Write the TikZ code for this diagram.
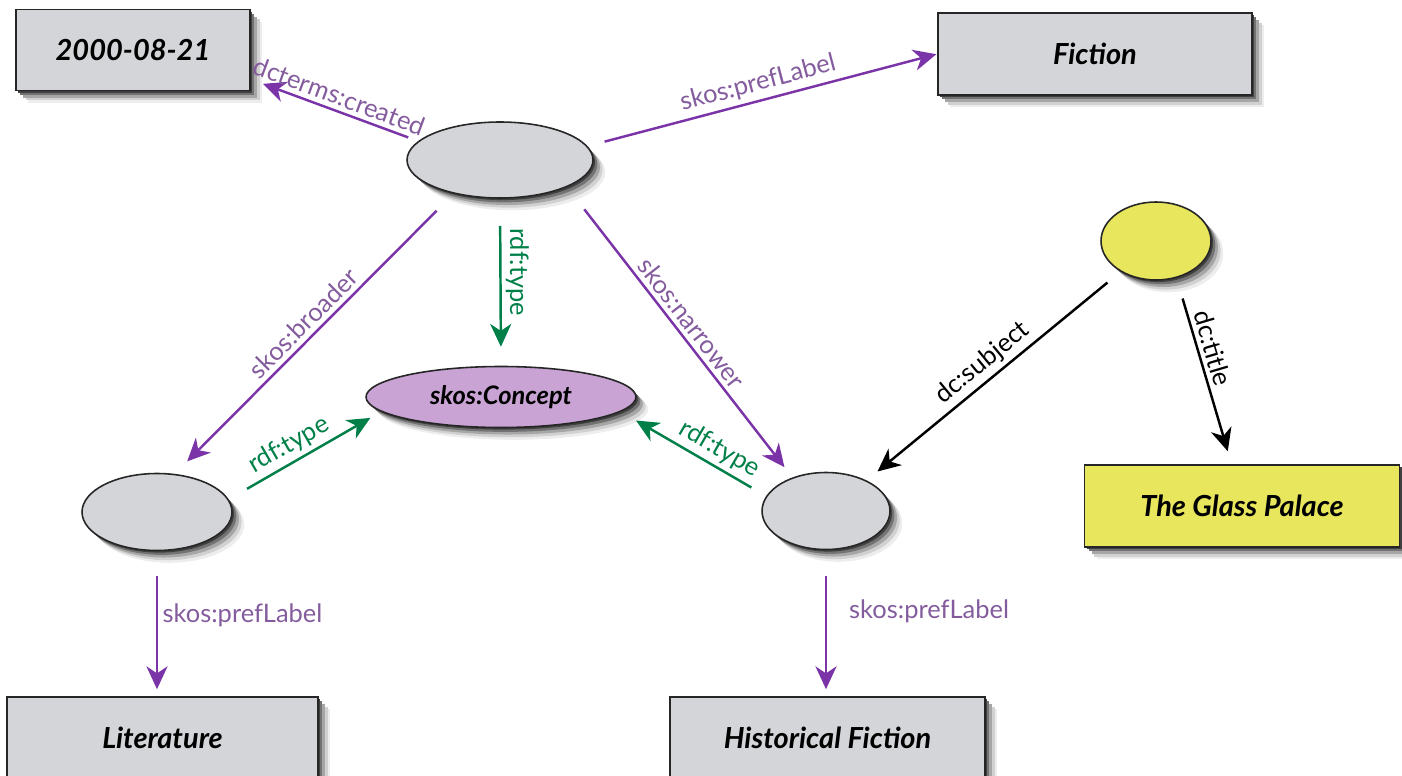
\documentclass[tikz,border=0pt]{standalone}
\usepackage{fontspec}
\setmainfont{Lato}
\usetikzlibrary{arrows.meta,shapes.geometric,shadows,positioning}
\definecolor{skospurple}{RGB}{122,52,168}
\definecolor{labelpurple}{RGB}{132,92,158}
\definecolor{typegreen}{RGB}{0,128,72}
\definecolor{nodegray}{RGB}{211,213,217}
\definecolor{nodeyellow}{RGB}{231,230,92}
\definecolor{conceptlilac}{RGB}{200,163,212}

\tikzset{
  shade drop/.style={
    general shadow={shadow xshift=7pt,shadow yshift=-7pt,fill=black!7,draw=none},
    general shadow={shadow xshift=5.5pt,shadow yshift=-5.5pt,fill=black!18,draw=none},
    general shadow={shadow xshift=4pt,shadow yshift=-4pt,fill=black!35,draw=none},
    general shadow={shadow xshift=2.5pt,shadow yshift=-2.5pt,fill=black!55,draw=none},
    general shadow={shadow xshift=1.2pt,shadow yshift=-1.2pt,fill=black!75,draw=none}},
  literal/.style={rectangle,draw=black!85,line width=0.9pt,fill=nodegray,inner sep=0pt,
    font=\bfseries\itshape\fontsize{16.5}{19}\selectfont,shade drop},
  resource/.style={ellipse,draw=black!85,line width=0.9pt,fill=nodegray,inner sep=0pt,shade drop},
  prop/.style={line width=1.4pt,color=skospurple,-{Stealth[length=13pt,width=12pt,inset=4pt]}},
  rdftype/.style={prop,color=typegreen},
  dcprop/.style={prop,color=black},
  plabel/.style={font=\fontsize{14.5}{17}\selectfont,text=labelpurple,inner sep=2.5pt},
  tlabel/.style={plabel,text=typegreen},
  dlabel/.style={plabel,text=black}
}

\begin{document}
\begin{tikzpicture}[x=0.02cm,y=-0.02cm]
  \useasboundingbox (0,0) rectangle (1402,776);

  % literals
  \node[literal,minimum width=4.68cm,minimum height=1.62cm] (date) at (133,50) {2000-08-21};
  \node[literal,minimum width=6.28cm,minimum height=1.64cm] (fiction) at (1095,54) {Fiction};
  \node[literal,minimum width=6.22cm,minimum height=1.64cm] (litbox) at (162.5,738) {Literature};
  \node[literal,minimum width=6.3cm,minimum height=1.64cm] (histbox) at (827.5,738) {Historical Fiction};
  \node[literal,fill=nodeyellow,minimum width=6.3cm,minimum height=1.64cm] (glass) at (1242,506) {The Glass Palace};

  % resources
  \node[resource,minimum width=3.72cm,minimum height=1.52cm] (top) at (500,160) {};
  \node[resource,fill=conceptlilac,minimum width=5.4cm,minimum height=1.22cm,
    font=\bfseries\itshape\fontsize{14.5}{17}\selectfont] (concept) at (501,397) {skos:Concept};
  \node[resource,fill=nodeyellow,minimum width=2.2cm,minimum height=1.56cm] (book) at (1156,241) {};
  \node[resource,minimum width=3cm,minimum height=1.54cm] (lit) at (157,512) {};
  \node[resource,minimum width=2.56cm,minimum height=1.54cm] (hist) at (826,511) {};

  \path[prop]
  (top.167) edge [shorten <=6pt,shorten >=7.4pt] node [plabel,sloped,above] {dcterms:created} (date.-14)
  (top.9) edge [shorten <=10pt,shorten >=0.5pt] node [plabel,sloped,above] {skos:prefLabel} (fiction.west)
  (top.216) edge [shorten <=13.7pt,shorten >=10pt] node [plabel,sloped,above] {skos:broader} (lit.65)
  (top.-22) edge [shorten <=16pt,shorten >=7.4pt] node [plabel,sloped,above] {skos:narrower} (hist.135)
  (lit.south) edge [shorten <=14.2pt,shorten >=4pt] node [plabel,right,pos=.44] {skos:prefLabel} (lit.south |- litbox.north)
  (hist.south) edge [shorten <=14.8pt,shorten >=4pt] node [plabel,right,pos=.42,xshift=10pt] {skos:prefLabel} (hist.south |- histbox.north)
  ;
  \path[rdftype]
  (top.south) edge [shorten <=15.4pt,shorten >=10.8pt] node [tlabel,sloped,above,pos=.44] {rdf:type} (concept.north)
  (lit.10) edge [shorten <=12pt,shorten >=7.1pt] node [tlabel,sloped,above,pos=.45] {rdf:type} (concept.187)
  (hist.166) edge [shorten <=9.7pt,shorten >=10pt] node [tlabel,sloped,above,pos=.38] {rdf:type} (concept.-7.5)
  ;
  \path[dcprop]
  (book.221) edge [shorten <=9.7pt,shorten >=8pt] node [dlabel,sloped,above] {dc:subject} (hist.37)
  (book.-61) edge [shorten <=12.2pt,shorten >=7.7pt] node [dlabel,sloped,above,pos=.4] {dc:title} (glass.104)
  ;
\end{tikzpicture}
\end{document}
